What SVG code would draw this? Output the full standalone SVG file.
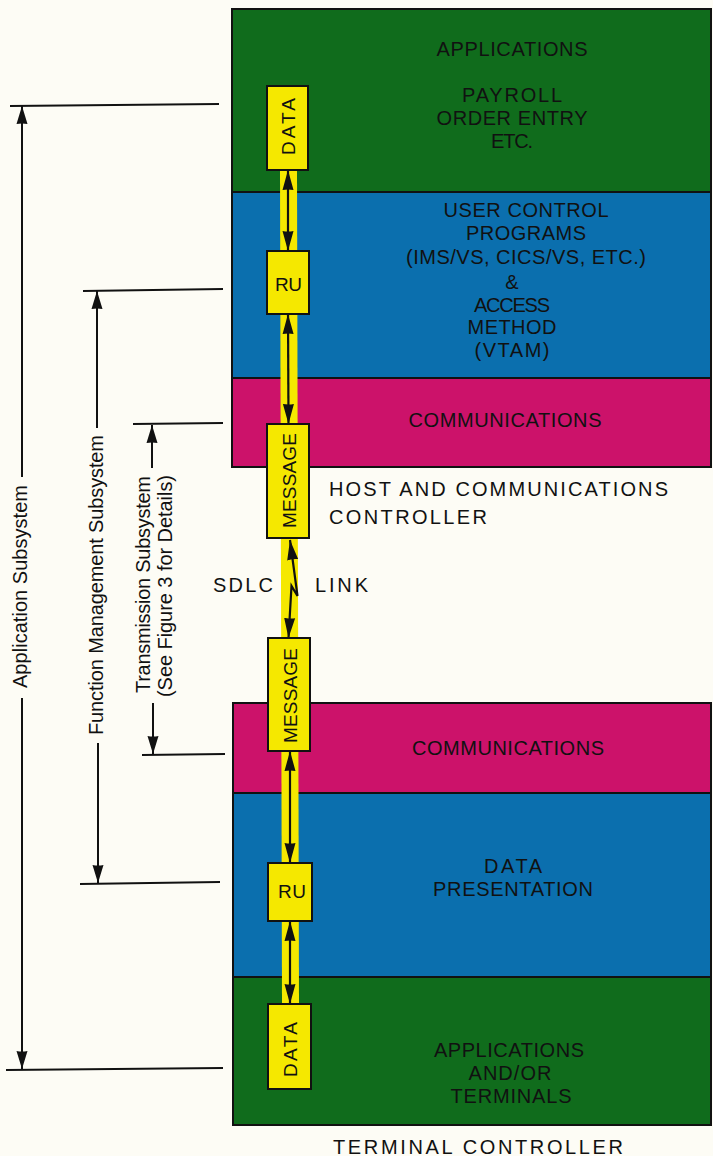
<svg xmlns="http://www.w3.org/2000/svg" width="713" height="1156" viewBox="0 0 713 1156">
<defs>
<style>
.bg{fill:#fdfcf5}
.green{fill:#106c1c;stroke:#111;stroke-width:2}
.blue{fill:#0b6fae;stroke:#111;stroke-width:2}
.pink{fill:#cc126a;stroke:#111;stroke-width:2}
.box{fill:#f5e800;stroke:#111;stroke-width:2}
.strip{fill:#f5e800}
.t{font-family:"Liberation Sans",Arial,sans-serif;font-size:20px;fill:#111}
.dt{font-family:"Liberation Sans",Arial,sans-serif;font-size:20px;fill:#111}
.bt{font-family:"Liberation Sans",Arial,sans-serif;font-size:19px;fill:#111}
.c{text-anchor:middle}
.conn{fill:none;stroke:#111;stroke-width:2.2}
.dim{fill:none;stroke:#111;stroke-width:2}
</style>
<marker id="ah" viewBox="0 0 20 12" refX="20" refY="6" markerWidth="20" markerHeight="12" markerUnits="userSpaceOnUse" orient="auto-start-reverse">
<path d="M0,0.5 L20,6 L0,11.5 Q1,6 0,0.5 Z" fill="#111"/>
</marker>
<marker id="dh" viewBox="0 0 18 12" refX="18" refY="6" markerWidth="18" markerHeight="12" markerUnits="userSpaceOnUse" orient="auto-start-reverse">
<path d="M0,0.5 L18,6 L0,11.5 Q1,6 0,0.5 Z" fill="#111"/>
</marker>
</defs>
<rect class="bg" x="0" y="0" width="713" height="1156"/>

<g id="host-applications">
<rect class="green" x="232" y="9" width="479" height="183"/>
<text class="t c" x="512" y="56" textLength="151" lengthAdjust="spacing">APPLICATIONS</text>
<text class="t c" x="512" y="102" textLength="100" lengthAdjust="spacing">PAYROLL</text>
<text class="t c" x="512" y="125" textLength="151" lengthAdjust="spacing">ORDER ENTRY</text>
<text class="t c" x="512" y="148" textLength="42" lengthAdjust="spacing">ETC.</text>
</g>
<g id="host-user-control">
<rect class="blue" x="232" y="192" width="479" height="186"/>
<text class="t c" x="526" y="217" textLength="165" lengthAdjust="spacing">USER CONTROL</text>
<text class="t c" x="526" y="240" textLength="120" lengthAdjust="spacing">PROGRAMS</text>
<text class="t c" x="526" y="264" textLength="240" lengthAdjust="spacing">(IMS/VS, CICS/VS, ETC.)</text>
<text class="t c" x="512" y="289">&amp;</text>
<text class="t c" x="512" y="312" textLength="76" lengthAdjust="spacing">ACCESS</text>
<text class="t c" x="512" y="334" textLength="89" lengthAdjust="spacing">METHOD</text>
<text class="t c" x="512" y="357" textLength="75" lengthAdjust="spacing">(VTAM)</text>
</g>
<g id="host-communications">
<rect class="pink" x="232" y="378" width="479" height="89"/>
<text class="t c" x="505" y="427" textLength="193" lengthAdjust="spacing">COMMUNICATIONS</text>
</g>
<g id="host-label">
<text class="t" x="329" y="496" textLength="339" lengthAdjust="spacing">HOST AND COMMUNICATIONS</text>
<text class="t" x="329" y="524" textLength="158" lengthAdjust="spacing">CONTROLLER</text>
</g>

<g id="term-communications">
<rect class="pink" x="233" y="703" width="478" height="90"/>
<text class="t c" x="508" y="755" textLength="192" lengthAdjust="spacing">COMMUNICATIONS</text>
</g>
<g id="term-data-presentation">
<rect class="blue" x="233" y="793" width="478" height="184"/>
<text class="t c" x="513" y="873" textLength="58" lengthAdjust="spacing">DATA</text>
<text class="t c" x="513" y="896" textLength="160" lengthAdjust="spacing">PRESENTATION</text>
</g>
<g id="term-applications">
<rect class="green" x="233" y="977" width="478" height="148"/>
<text class="t c" x="509" y="1057" textLength="150" lengthAdjust="spacing">APPLICATIONS</text>
<text class="t c" x="510" y="1080" textLength="83" lengthAdjust="spacing">AND/OR</text>
<text class="t c" x="511" y="1103" textLength="121" lengthAdjust="spacing">TERMINALS</text>
</g>
<g id="term-label">
<text class="t c" x="478" y="1154" textLength="290" lengthAdjust="spacing">TERMINAL CONTROLLER</text>
</g>

<g id="sdlc-label">
<text class="t" x="213" y="592" textLength="60" lengthAdjust="spacing">SDLC</text>
<text class="t" x="315" y="592" textLength="53" lengthAdjust="spacing">LINK</text>
</g>

<g id="yellow-path">
<polygon class="strip" points="280,170 297,170 299,1004 282,1004"/>
</g>

<g id="connectors">
<line class="conn" x1="288" y1="170" x2="288" y2="251" marker-start="url(#ah)" marker-end="url(#ah)"/>
<line class="conn" x1="288" y1="314" x2="288.5" y2="424" marker-start="url(#ah)" marker-end="url(#ah)"/>
<path class="conn" d="M290,540 L297.5,596 L291.5,586 L288.5,638" marker-start="url(#ah)" marker-end="url(#ah)"/>
<line class="conn" x1="290" y1="751" x2="290" y2="863" marker-start="url(#ah)" marker-end="url(#ah)"/>
<line class="conn" x1="290" y1="921" x2="290" y2="1004" marker-start="url(#ah)" marker-end="url(#ah)"/>
</g>

<g id="box-data-top">
<rect class="box" x="267" y="86" width="41" height="84"/>
<text class="bt c" transform="translate(295,126.5) rotate(-90)" textLength="57" lengthAdjust="spacing">DATA</text>
</g>
<g id="box-ru-top">
<rect class="box" x="267" y="251" width="42" height="63"/>
<text class="bt c" x="288.5" y="291" textLength="27" lengthAdjust="spacing">RU</text>
</g>
<g id="box-message-top">
<rect class="box" x="267" y="424" width="42" height="114"/>
<text class="bt c" transform="translate(295.5,480.5) rotate(-90)" textLength="95" lengthAdjust="spacing">MESSAGE</text>
</g>
<g id="box-message-bottom">
<rect class="box" x="268" y="638" width="42" height="113"/>
<text class="bt c" transform="translate(297,695.5) rotate(-90)" textLength="95" lengthAdjust="spacing">MESSAGE</text>
</g>
<g id="box-ru-bottom">
<rect class="box" x="268" y="863" width="44" height="58"/>
<text class="bt c" x="292" y="898" textLength="28" lengthAdjust="spacing">RU</text>
</g>
<g id="box-data-bottom">
<rect class="box" x="268" y="1004" width="43" height="85"/>
<text class="bt c" transform="translate(297,1049.5) rotate(-90)" textLength="55" lengthAdjust="spacing">DATA</text>
</g>

<g id="dimension-application">
<line class="dim" x1="10" y1="106" x2="219" y2="104"/>
<line class="dim" x1="6" y1="1070" x2="223" y2="1068"/>
<line class="dim" x1="22" y1="477" x2="22" y2="106" marker-end="url(#dh)"/>
<line class="dim" x1="22" y1="698" x2="22" y2="1069" marker-end="url(#dh)"/>
<text class="dt c" transform="translate(27,586.5) rotate(-90)" textLength="203" lengthAdjust="spacing">Application Subsystem</text>
</g>
<g id="dimension-function-management">
<line class="dim" x1="83" y1="291" x2="223" y2="289"/>
<line class="dim" x1="80" y1="884" x2="220" y2="882"/>
<line class="dim" x1="97" y1="428" x2="97" y2="291" marker-end="url(#dh)"/>
<line class="dim" x1="98" y1="743" x2="98" y2="883" marker-end="url(#dh)"/>
<text class="dt c" transform="translate(103,585) rotate(-90)" textLength="300" lengthAdjust="spacing">Function Management Subsystem</text>
</g>
<g id="dimension-transmission">
<line class="dim" x1="133" y1="424" x2="223" y2="423"/>
<line class="dim" x1="142" y1="755" x2="225" y2="754"/>
<line class="dim" x1="152" y1="468" x2="152" y2="425" marker-end="url(#dh)"/>
<line class="dim" x1="153" y1="703" x2="153" y2="754" marker-end="url(#dh)"/>
<text class="dt c" transform="translate(150,584.5) rotate(-90)" textLength="217" lengthAdjust="spacing">Transmission Subsystem</text>
<text class="dt c" transform="translate(172,586) rotate(-90)" textLength="222" lengthAdjust="spacing">(See Figure 3 for Details)</text>
</g>
</svg>
